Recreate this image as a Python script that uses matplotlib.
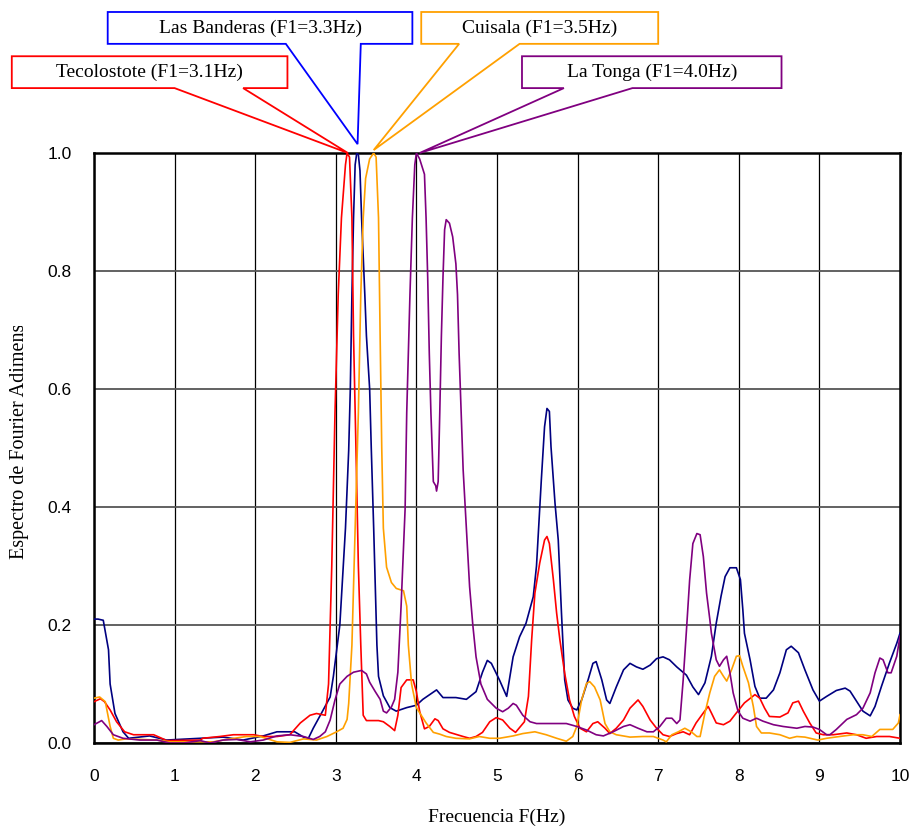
import matplotlib
matplotlib.use("Agg")
import matplotlib.pyplot as plt
from matplotlib.patches import Polygon
from matplotlib.transforms import Bbox

# Las Banderas (navy)
banderas_f = [0, 0.05, 0.115, 0.18, 0.20, 0.26, 0.36, 0.43, 0.69, 0.90, 1.32, 1.60, 1.85, 2.10, 2.27,
              2.49, 2.60, 2.66, 2.72, 2.82, 2.93, 2.97, 3.05, 3.12, 3.16, 3.18, 3.20, 3.22, 3.24, 3.26,
              3.28, 3.30, 3.32, 3.36, 3.38, 3.42, 3.44, 3.47, 3.51, 3.53, 3.59, 3.67, 3.75, 3.88, 4.00,
              4.08, 4.25, 4.33, 4.49, 4.62, 4.74, 4.82, 4.88, 4.93, 5.03, 5.12, 5.20, 5.28, 5.36, 5.45,
              5.49, 5.55, 5.59, 5.62, 5.65, 5.67, 5.72, 5.76, 5.80, 5.84, 5.88, 5.94, 5.99, 6.05, 6.13,
              6.19, 6.23, 6.30, 6.36, 6.40, 6.48, 6.57, 6.65, 6.73, 6.81, 6.90, 6.98, 7.06, 7.14, 7.23,
              7.35, 7.43, 7.50, 7.58, 7.66, 7.72, 7.78, 7.83, 7.89, 7.97, 8.02, 8.05, 8.07, 8.14, 8.20,
              8.26, 8.34, 8.43, 8.51, 8.59, 8.65, 8.74, 8.82, 8.92, 9.00, 9.09, 9.21, 9.32, 9.38, 9.46,
              9.54, 9.63, 9.69, 9.77, 9.87, 9.96, 10.0]
banderas_a = [0.21, 0.21, 0.208, 0.158, 0.10, 0.05, 0.019, 0.008, 0.012, 0.005, 0.008, 0.01, 0.005, 0.012, 0.019,
              0.019, 0.01, 0.008, 0.025, 0.05, 0.078, 0.113, 0.2, 0.364, 0.496, 0.60, 0.76, 0.89, 0.98, 1.0,
              0.997, 0.97, 0.89, 0.76, 0.69, 0.60, 0.50, 0.364, 0.166, 0.113, 0.08, 0.06, 0.054, 0.06, 0.064,
              0.074, 0.09, 0.077, 0.077, 0.074, 0.087, 0.12, 0.14, 0.135, 0.107, 0.079, 0.146, 0.18, 0.203, 0.248,
              0.30, 0.446, 0.536, 0.567, 0.562, 0.502, 0.406, 0.344, 0.22, 0.107, 0.073, 0.059, 0.056, 0.073, 0.107,
              0.135, 0.138, 0.107, 0.073, 0.067, 0.095, 0.124, 0.135, 0.129, 0.125, 0.132, 0.143, 0.146, 0.141, 0.129,
              0.115, 0.095, 0.082, 0.102, 0.147, 0.203, 0.249, 0.282, 0.297, 0.297, 0.277, 0.226, 0.186, 0.141, 0.096,
              0.076, 0.076, 0.09, 0.119, 0.158, 0.164, 0.153, 0.124, 0.09, 0.071, 0.079, 0.089, 0.093, 0.088, 0.071,
              0.054, 0.046, 0.062, 0.096, 0.136, 0.169, 0.186]

# Tecolostote (red)
tecolostote_f = [0, 0.08, 0.13, 0.20, 0.28, 0.38, 0.49, 0.74, 0.84, 0.90, 1.32, 1.35, 1.56, 1.73, 1.98,
                 2.10, 2.27, 2.43, 2.56, 2.68, 2.76, 2.87, 2.91, 2.95, 2.99, 3.03, 3.07, 3.12, 3.14, 3.17,
                 3.20, 3.22, 3.25, 3.28, 3.31, 3.34, 3.38, 3.53, 3.59, 3.67, 3.73, 3.77, 3.81, 3.88, 3.96,
                 4.00, 4.04, 4.10, 4.16, 4.23, 4.27, 4.33, 4.41, 4.58, 4.66, 4.74, 4.82, 4.91, 4.99, 5.07,
                 5.16, 5.23, 5.34, 5.39, 5.43, 5.47, 5.53, 5.59, 5.62, 5.65, 5.70, 5.74, 5.78, 5.84, 5.90,
                 5.96, 6.03, 6.11, 6.19, 6.25, 6.34, 6.40, 6.48, 6.57, 6.65, 6.75, 6.81, 6.90, 6.98, 7.06,
                 7.14, 7.23, 7.31, 7.39, 7.47, 7.56, 7.62, 7.66, 7.72, 7.81, 7.89, 7.97, 8.07, 8.20, 8.26,
                 8.32, 8.38, 8.51, 8.61, 8.67, 8.74, 8.80, 8.88, 8.96, 9.05, 9.17, 9.34, 9.46, 9.58, 9.71,
                 9.87, 10.0]
tecolostote_a = [0.07, 0.075, 0.07, 0.056, 0.036, 0.019, 0.014, 0.014, 0.008, 0.004, 0.005, 0.008, 0.011, 0.014, 0.014,
                 0.011, 0.011, 0.014, 0.034, 0.047, 0.05, 0.047, 0.10, 0.30, 0.56, 0.76, 0.89, 0.98, 1.0, 0.993,
                 0.89, 0.69, 0.50, 0.30, 0.166, 0.047, 0.038, 0.038, 0.036, 0.028, 0.021, 0.047, 0.094, 0.107, 0.107,
                 0.087, 0.054, 0.024, 0.028, 0.041, 0.038, 0.024, 0.018, 0.011, 0.008, 0.011, 0.018, 0.036, 0.043, 0.039,
                 0.025, 0.018, 0.036, 0.079, 0.175, 0.254, 0.305, 0.344, 0.35, 0.338, 0.276, 0.22, 0.175, 0.118, 0.073,
                 0.045, 0.025, 0.019, 0.033, 0.036, 0.025, 0.016, 0.025, 0.039, 0.059, 0.073, 0.062, 0.039, 0.025, 0.014,
                 0.011, 0.016, 0.019, 0.014, 0.034, 0.051, 0.062, 0.051, 0.034, 0.031, 0.037, 0.051, 0.068, 0.082, 0.076,
                 0.059, 0.045, 0.044, 0.051, 0.068, 0.071, 0.054, 0.034, 0.017, 0.014, 0.014, 0.017, 0.014, 0.008, 0.011,
                 0.011, 0.008]

# Cuisala (orange)
cuisala_f = [0, 0.07, 0.14, 0.20, 0.24, 0.30, 0.40, 0.78, 0.94, 1.19, 1.48, 1.69, 1.89, 2.06, 2.27,
             2.43, 2.60, 2.76, 2.89, 3.01, 3.09, 3.14, 3.16, 3.20, 3.24, 3.28, 3.31, 3.34, 3.37, 3.42,
             3.47, 3.50, 3.53, 3.55, 3.57, 3.59, 3.63, 3.69, 3.75, 3.84, 3.88, 3.90, 3.94, 4.00, 4.06,
             4.12, 4.21, 4.29, 4.37, 4.49, 4.66, 4.78, 4.91, 5.03, 5.20, 5.32, 5.47, 5.61, 5.74, 5.86,
             5.94, 5.99, 6.05, 6.11, 6.15, 6.21, 6.28, 6.34, 6.40, 6.48, 6.65, 6.81, 6.94, 7.06, 7.10,
             7.17, 7.25, 7.33, 7.41, 7.48, 7.52, 7.58, 7.64, 7.70, 7.76, 7.81, 7.85, 7.91, 7.97, 8.01,
             8.05, 8.12, 8.18, 8.22, 8.28, 8.38, 8.51, 8.63, 8.72, 8.82, 8.98, 9.09, 9.25, 9.42, 9.54,
             9.65, 9.75, 9.83, 9.91, 9.98, 10.0]
cuisala_a = [0.076, 0.078, 0.07, 0.028, 0.008, 0.005, 0.007, 0.005, 0.002, 0.002, 0.002, 0.007, 0.011, 0.011, 0.002,
             0.001, 0.007, 0.005, 0.011, 0.019, 0.025, 0.04, 0.067, 0.166, 0.364, 0.56, 0.76, 0.89, 0.957, 0.99,
             1.0, 0.993, 0.89, 0.69, 0.50, 0.364, 0.298, 0.272, 0.262, 0.258, 0.232, 0.166, 0.10, 0.06, 0.047,
             0.034, 0.018, 0.015, 0.011, 0.008, 0.007, 0.011, 0.008, 0.008, 0.012, 0.016, 0.019, 0.014, 0.008, 0.003,
             0.011, 0.028, 0.073, 0.101, 0.104, 0.095, 0.073, 0.033, 0.019, 0.014, 0.01, 0.011, 0.011, 0.005, 0.002,
             0.014, 0.019, 0.025, 0.019, 0.011, 0.011, 0.051, 0.085, 0.113, 0.124, 0.113, 0.105, 0.124, 0.147, 0.148,
             0.13, 0.102, 0.062, 0.028, 0.017, 0.017, 0.014, 0.008, 0.011, 0.01, 0.005, 0.008, 0.011, 0.014, 0.014,
             0.011, 0.023, 0.023, 0.023, 0.034, 0.048]

# La Tonga (purple)
tonga_f = [0, 0.095, 0.16, 0.24, 0.36, 0.57, 0.78, 0.94, 1.11, 1.32, 1.44, 1.60, 1.77, 1.94, 2.10,
           2.27, 2.43, 2.60, 2.72, 2.80, 2.87, 2.93, 2.99, 3.05, 3.14, 3.22, 3.32, 3.38, 3.42, 3.49,
           3.55, 3.59, 3.63, 3.69, 3.73, 3.77, 3.81, 3.86, 3.88, 3.92, 3.95, 3.98, 4.00, 4.04, 4.10,
           4.12, 4.14, 4.16, 4.18, 4.21, 4.24, 4.25, 4.27, 4.29, 4.31, 4.33, 4.35, 4.37, 4.41, 4.45,
           4.49, 4.51, 4.53, 4.58, 4.62, 4.66, 4.70, 4.74, 4.80, 4.88, 4.99, 5.07, 5.14, 5.20, 5.24,
           5.32, 5.41, 5.49, 5.65, 5.86, 5.99, 6.11, 6.23, 6.32, 6.44, 6.57, 6.65, 6.75, 6.86, 6.94,
           7.02, 7.10, 7.17, 7.23, 7.27, 7.31, 7.35, 7.39, 7.43, 7.48, 7.52, 7.56, 7.60, 7.64, 7.66,
           7.72, 7.76, 7.81, 7.85, 7.89, 7.93, 7.99, 8.05, 8.14, 8.22, 8.30, 8.43, 8.55, 8.72, 8.82,
           8.92, 9.00, 9.09, 9.13, 9.21, 9.34, 9.46, 9.54, 9.63, 9.69, 9.75, 9.79, 9.85, 9.89, 9.96,
           10.0]
tonga_a = [0.031, 0.038, 0.028, 0.014, 0.008, 0.005, 0.005, 0.0, 0.0, 0.004, 0.0, 0.005, 0.006, 0.002, 0.005,
           0.012, 0.014, 0.011, 0.006, 0.011, 0.019, 0.039, 0.073, 0.10, 0.113, 0.12, 0.123, 0.117, 0.103, 0.087,
           0.074, 0.054, 0.051, 0.061, 0.074, 0.12, 0.232, 0.397, 0.56, 0.76, 0.89, 0.98, 1.0, 0.99, 0.964,
           0.89, 0.79, 0.66, 0.56, 0.443, 0.436, 0.427, 0.443, 0.56, 0.69, 0.79, 0.87, 0.887, 0.881, 0.858,
           0.812, 0.76, 0.66, 0.463, 0.364, 0.265, 0.2, 0.146, 0.10, 0.074, 0.059, 0.053, 0.059, 0.067, 0.064,
           0.047, 0.036, 0.033, 0.033, 0.033, 0.028, 0.022, 0.014, 0.012, 0.019, 0.028, 0.031, 0.025, 0.019, 0.019,
           0.028, 0.042, 0.042, 0.033, 0.039, 0.107, 0.19, 0.276, 0.338, 0.355, 0.353, 0.316, 0.254, 0.21, 0.186,
           0.141, 0.13, 0.141, 0.147, 0.119, 0.085, 0.054, 0.042, 0.037, 0.042, 0.037, 0.031, 0.028, 0.025, 0.028,
           0.027, 0.023, 0.014, 0.014, 0.023, 0.04, 0.048, 0.059, 0.085, 0.119, 0.144, 0.141, 0.119, 0.119, 0.147,
           0.181]

x_ticks = list(range(0, 11))
y_ticks = [0.0, 0.2, 0.4, 0.6, 0.8, 1.0]

serif = ["Liberation Serif", "DejaVu Serif"]
sans = ["Liberation Sans", "DejaVu Sans"]

fig = plt.figure(figsize=(9.12, 8.27), dpi=100)
ax = fig.add_axes([94 / 912, 84 / 827, 806 / 912, 590 / 827])

ax.plot(banderas_f, banderas_a, color="#000080", lw=1.2, zorder=3)
ax.plot(tecolostote_f, tecolostote_a, color="#ff0000", lw=1.2, zorder=3)
ax.plot(cuisala_f, cuisala_a, color="#ffa000", lw=1.2, zorder=3)
ax.plot(tonga_f, tonga_a, color="#800080", lw=1.2, zorder=3)

ax.set_xlim(0, 10)
ax.set_ylim(0, 1)
ax.set_xticks(x_ticks)
ax.set_yticks(y_ticks)
ax.set_yticklabels([f"{v:.1f}" for v in y_ticks])
ax.tick_params(length=0, labelsize=12.5)
ax.tick_params(axis="x", pad=19)
ax.tick_params(axis="y", pad=16)
for lab in ax.get_xticklabels() + ax.get_yticklabels():
    lab.set_family(sans)

ax.xaxis.grid(True, color="black", lw=0.9)
ax.yaxis.grid(True, color="#555555", lw=1.3)
ax.set_axisbelow(True)
for s in ax.spines.values():
    s.set_linewidth(1.8)
    s.set_color("black")

fig.text(497 / 912, (827 - 809) / 827, "Frecuencia F(Hz)", ha="center", va="top",
         family=serif, fontsize=14)

ylab = fig.text(20 / 912, (827 - 559) / 827, "Espectro de Fourier Adimensional", rotation=90,
                ha="center", va="bottom", family=serif, fontsize=14.5)
ylab.set_clip_box(Bbox([[0, 0], [80, 827 - 326]]))
ylab.set_clip_on(True)


def callout(x0, x1, y0, y1, w0, w1, tip, color, text):
    pts = [(x0, y1), (x1, y1), (x1, y0), (w1, y0), tip, (w0, y0), (x0, y0)]
    ax.add_patch(Polygon(pts, closed=True, facecolor="white", edgecolor=color,
                         lw=1.3, clip_on=False, zorder=5))
    ax.text((x0 + x1) / 2, (y0 + y1) / 2, text, ha="center", va="center",
            family=serif, fontsize=14, clip_on=False, zorder=6)


# boxes in data units above the axes
callout(-1.02, 2.40, 1.110, 1.164, 1.00, 1.85, (3.15, 1.0), "#ff0000", "Tecolostote (F1=3.1Hz)")
callout(0.17, 3.95, 1.185, 1.239, 2.38, 3.31, (3.27, 1.015), "#0000ff", "Las Banderas (F1=3.3Hz)")
callout(4.06, 7.00, 1.185, 1.239, 4.53, 5.28, (3.47, 1.005), "#ffa000", "Cuisala (F1=3.5Hz)")
callout(5.31, 8.53, 1.110, 1.164, 5.83, 6.68, (4.04, 1.0), "#800080", "La Tonga (F1=4.0Hz)")

fig.savefig("out.png", dpi=100)
